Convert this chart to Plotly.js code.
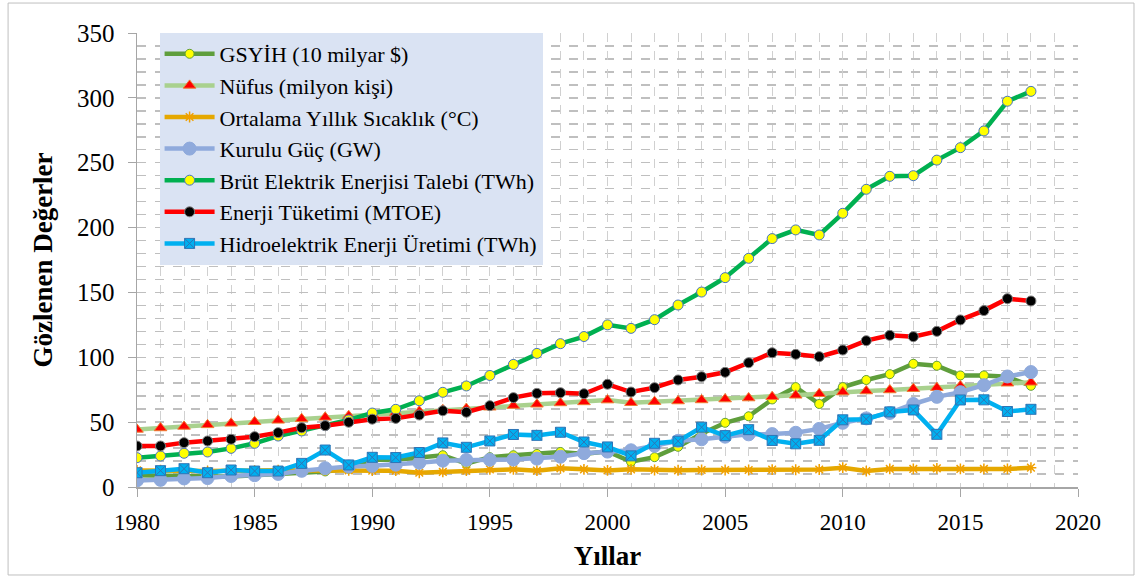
<!DOCTYPE html>
<html>
<head>
<meta charset="utf-8">
<script src="https://cdn.plot.ly/plotly-3.0.1.min.js"></script>
<style>html,body{margin:0;padding:0;background:#fff;}#chart{width:1141px;height:577px;}</style>
</head>
<body>
<div id="chart"></div>
<script>
const years = [1980,1981,1982,1983,1984,1985,1986,1987,1988,1989,1990,1991,1992,1993,1994,1995,1996,1997,1998,1999,2000,2001,2002,2003,2004,2005,2006,2007,2008,2009,2010,2011,2012,2013,2014,2015,2016,2017,2018];
const gsyih = [9,9,8.5,8,8,9,10,11.5,12,14,21,21,23,24.5,18,23,24.5,25.5,27,25.5,27.5,19.5,23,31,41,49.5,54.5,67.5,77,64,77,82.5,87,95,93.5,86,86,85,78];
const nufus = [44.4,45.5,46.7,47.9,49.1,50.3,51.4,52.6,53.7,54.9,56.1,57.3,58.4,59.5,60.5,61.5,62.8,63.8,64.8,65.6,67,65,65.8,66.3,67.1,67.8,68.6,69.6,70.7,71.9,73.2,74,74.8,75.8,76.6,77.9,79,80,80.7];
const sicaklik = [12.8,13.0,12.5,12.3,12.8,12.6,13.0,12.7,12.8,12.9,12.6,12.6,11,11.6,12.6,13.6,13.6,12.6,14.4,13.6,12.8,13.6,13.1,12.9,13.1,13.1,13.1,13.4,13.3,13.5,14.9,12.3,13.9,13.9,14.4,13.9,13.9,13.9,14.9];
const kurulu = [5.1,5.5,6.6,6.9,8.5,9.1,10.1,12.5,14.5,15.8,16.3,17.2,18.7,20.3,20.9,21.0,21.2,21.9,23.4,26.1,27.3,28.3,31.8,35.6,36.8,38.8,40.6,40.8,41.8,44.8,49.5,52.9,57.1,64.0,69.5,73.1,78.5,85.2,88.6];
const brut = [22.6,23.9,26,27,29.8,33.7,39.3,43.2,47.3,51.7,57,59.9,66.5,73,77.9,86,94.5,103,110.5,116,125,122.3,129,140.3,150.3,161.4,176.3,191.5,198.2,194.3,211,229.5,239.5,240,252,261.6,274.5,297.4,305];
const enerji = [31.6,31.6,34.2,35.5,36.8,38.8,41.9,45.7,47.3,49.9,52.3,52.9,55.5,58.8,57.6,62.7,68.9,72.2,72.7,71.9,79.2,73.2,76.6,82.5,85,88.4,95.8,103.5,102.3,100.5,105.6,112.8,116.9,115.9,120,128.8,136,145.2,143.4];
const hidro = [11,12.6,14.1,11,13.1,12.3,12.3,18.2,28.5,17,22.9,22.7,26.6,34.0,30.6,35.5,40.5,39.8,42.2,34.7,30.9,24.0,33.7,35.3,46.1,39.6,44.2,35.9,33.3,36.0,51.8,52.3,57.9,59.4,40.6,67.1,67.2,58.2,59.9];
const names = ['GSYİH (10 milyar $)','Nüfus (milyon kişi)','Ortalama Yıllık Sıcaklık (°C)','Kurulu Güç (GW)','Brüt Elektrik Enerjisi Talebi (TWh)','Enerji Tüketimi (MTOE)','Hidroelektrik Enerji Üretimi (TWh)'];
const xTicks = [1980,1985,1990,1995,2000,2005,2010,2015,2020];
const yTicks = [0,50,100,150,200,250,300,350];

const LW = 4.5;
const traces = [
  {y:gsyih, name:names[0], line:{color:'#5f9e3c',width:LW}, marker:{symbol:'circle',size:9,color:'#ffff00',line:{color:'#5f9e3c',width:1}}},
  {y:nufus, name:names[1], line:{color:'#a9d18e',width:LW}, marker:{symbol:'triangle-up',size:11,color:'#ff0000',line:{color:'#ed7d31',width:1}}},
  {y:sicaklik, name:names[2], line:{color:'#e5a800',width:LW}, marker:{symbol:'asterisk-open',size:9,color:'#f0a000',line:{color:'#f0a000',width:1.5}}},
  {y:kurulu, name:names[3], line:{color:'#8faadc',width:LW}, marker:{symbol:'circle',size:13,color:'#8faadc',line:{color:'#8faadc',width:1}}},
  {y:brut, name:names[4], line:{color:'#00b050',width:LW}, marker:{symbol:'circle',size:10,color:'#ffff00',line:{color:'#4472c4',width:1}}},
  {y:enerji, name:names[5], line:{color:'#ff0000',width:LW}, marker:{symbol:'circle',size:10,color:'#000000',line:{color:'#7f7f7f',width:1}}},
  {y:hidro, name:names[6], line:{color:'#00b0f0',width:LW}, marker:{symbol:'square-x',size:10,color:'#00b0f0',line:{color:'#2e75b6',width:1}}}
].map(t => Object.assign({x:years, type:'scatter', mode:'lines+markers'}, t));

const font = "'Liberation Serif', 'Times New Roman', serif";
const layout = {
  width:1141, height:577,
  margin:{l:137, r:63, t:33, b:90},
  paper_bgcolor:'#ffffff', plot_bgcolor:'#ffffff',
  font:{family:font, color:'#000'},
  showlegend:true,
  legend:{x:0.024, y:1, xanchor:'left', yanchor:'top', bgcolor:'#dae3f3', borderwidth:0,
          font:{family:font, size:22, color:'#000'}, tracegroupgap:0, itemwidth:50,
          entrywidth:370, entrywidthmode:'pixels'},
  xaxis:{range:[1980,2020], tickvals:xTicks, ticktext:xTicks.map(String), ticks:'outside', ticklen:8, tickcolor:'#a6a6a6',
         showline:true, linecolor:'#a6a6a6', linewidth:1.5, zeroline:false,
         showgrid:true, gridcolor:'#d0d0d0', griddash:'dash', gridwidth:1,
         minor:{dtick:1, tick0:1980, showgrid:true, gridcolor:'#d0d0d0', griddash:'dash', gridwidth:1, ticks:''},
         tickfont:{family:font, size:23, color:'#000'}, ticklabelstandoff:6,
         title:{text:'<b>Yıllar</b>', font:{family:font, size:27, color:'#000'}, standoff:12}},
  yaxis:{range:[0,350], tickvals:yTicks, ticktext:yTicks.map(String), ticks:'outside', ticklen:8, tickcolor:'#a6a6a6',
         showline:true, linecolor:'#a6a6a6', linewidth:1.5, zeroline:false,
         showgrid:true, gridcolor:'#bfbfbf', griddash:'dash', gridwidth:1.5,
         minor:{dtick:10, tick0:0, showgrid:true, gridcolor:'#bfbfbf', griddash:'dash', gridwidth:1.5, ticks:''},
         tickfont:{family:font, size:25, color:'#000'}, ticklabelstandoff:8,
         title:{text:'<b>Gözlenen Değerler</b>', font:{family:font, size:27, color:'#000'}, standoff:16}},
  shapes:[{type:'rect', xref:'paper', yref:'paper', x0:-0.137, x1:1.0595, y0:-0.1938, y1:1.066, line:{color:'#bfbfbf', width:1}, fillcolor:'rgba(0,0,0,0)', layer:'below'}]
};
Plotly.newPlot('chart', traces, layout, {displayModeBar:false, staticPlot:true});
</script>
</body>
</html>
